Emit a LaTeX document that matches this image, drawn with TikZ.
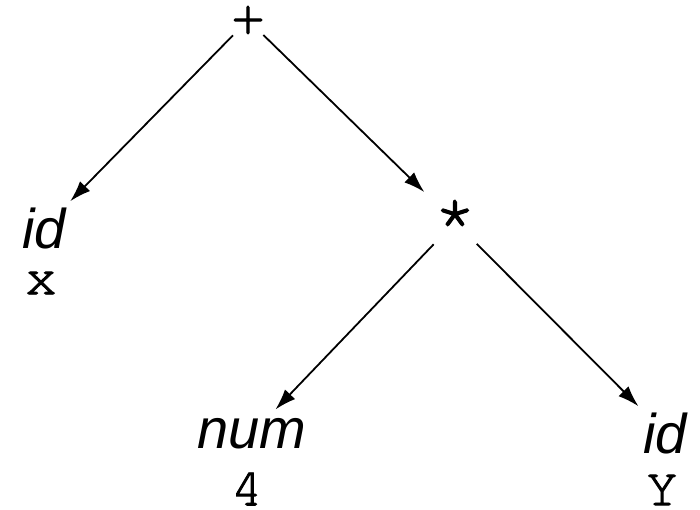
\documentclass[tikz,border=0pt]{standalone}
\usepackage{fontspec}
\setmainfont{Liberation Sans}
\newfontfamily\monof[FakeBold=1.6]{texgyrecursor-regular.otf}
\usetikzlibrary{arrows.meta}
\begin{document}
\begin{tikzpicture}[x=1pt,y=-1pt,
  lab/.style={font=\fontsize{56}{60}\selectfont\itshape, inner sep=6pt},
  val/.style={font=\monof\fontsize{54}{58}\selectfont, inner sep=0pt},
  op/.style={font=\monof\fontsize{54}{58}\selectfont, circle, inner sep=0pt, minimum size=40pt},
  arr/.style={-{Latex[length=21pt,width=14pt]}, line width=1.8pt}]
\useasboundingbox (0,0) rectangle (700,509);
\node[op] (plus) at (248,20) {+};
\node[op, minimum size=46pt, font=\monof\fontsize{72}{76}\selectfont] (star) at (455,222) {*};
\node[lab] (id1) at (44,228) {id};
\node[val] (x1) at (41,283) {x};
\node[lab, inner sep=9pt] (num) at (252,434) {num};
\node[val] (four) at (247,489) {4};
\node[lab] (id2) at (665,433) {id};
\node[val] (y2) at (662,490) {Y};
\draw[arr] (plus) -- (id1);
\draw[arr, shorten >=12pt] (plus) -- (star);
\draw[arr] (star) -- (num);
\draw[arr] (star) -- (id2);
\end{tikzpicture}
\end{document}
